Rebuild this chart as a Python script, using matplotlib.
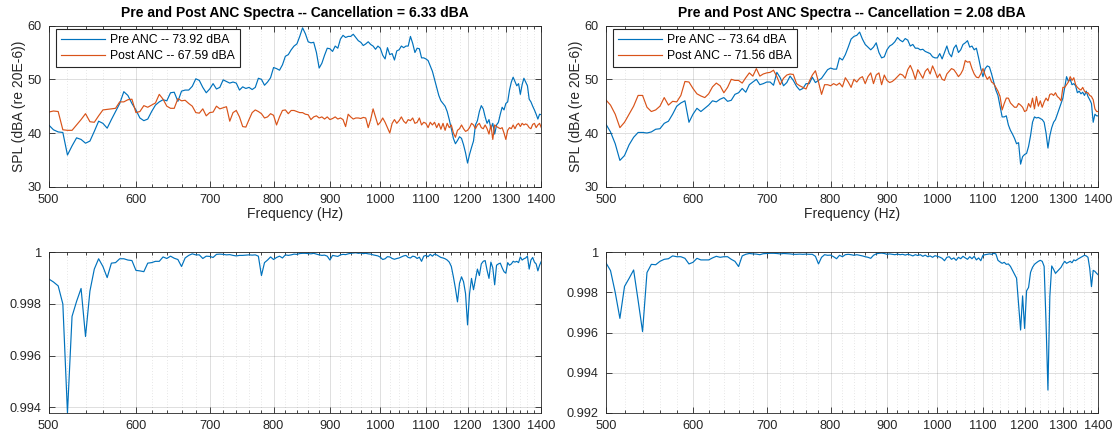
import numpy as np
import matplotlib
matplotlib.use('Agg')
import matplotlib.pyplot as plt
from matplotlib.ticker import FixedLocator, FixedFormatter, NullFormatter

plt.rcParams['font.family'] = ['Liberation Sans', 'DejaVu Sans']

# frequency grid (Hz)
freq = np.arange(500, 1405, 5)

# left case: spectra (dBA)
pre_left = [
    41.5, 40.6, 40.2, 40.1, 35.9, 37.6, 39.1, 38.8, 38.1, 38.5, 40.3, 42.2, 41.8, 40.9, 42.5, 44.0, 45.5, 47.7, 47.0, 45.5,
    44.3, 42.8, 42.3, 42.6, 44.0, 45.2, 45.8, 46.2, 46.0, 47.5, 47.6, 45.9, 47.8, 48.0, 48.0, 48.7, 50.1, 49.8, 48.5, 47.5,
    48.2, 49.2, 48.2, 48.5, 49.9, 49.6, 49.3, 49.5, 49.3, 48.0, 48.6, 48.3, 48.5, 48.1, 48.5, 50.2, 50.0, 48.9, 49.5, 50.3,
    52.2, 52.0, 51.7, 52.7, 54.3, 54.6, 55.5, 56.2, 56.6, 58.0, 59.6, 58.5, 57.0, 56.8, 56.9, 55.0, 52.1, 53.0, 54.5, 55.8,
    55.7, 55.2, 56.2, 55.8, 57.5, 58.2, 57.8, 58.0, 58.0, 58.4, 57.8, 57.2, 56.9, 56.3, 56.6, 57.0, 56.5, 56.2, 55.6, 56.2,
    55.8, 54.5, 53.8, 55.9, 54.6, 54.8, 53.6, 55.3, 55.5, 56.2, 55.9, 56.2, 56.2, 58.0, 56.7, 55.0, 55.8, 55.7, 54.0, 54.0,
    53.8, 53.5, 52.5, 51.5, 50.0, 48.5, 47.0, 46.0, 45.5, 45.0, 44.0, 42.5, 40.8, 39.0, 38.0, 38.6, 39.3, 39.0, 37.8, 36.3,
    34.4, 36.0, 37.3, 38.5, 41.5, 42.3, 44.0, 45.1, 44.5, 43.0, 41.8, 42.5, 40.8, 41.8, 39.8, 41.5, 42.0, 43.5, 44.8, 44.3,
    45.5, 45.8, 48.0, 49.5, 50.4, 49.6, 48.8, 49.2, 47.2, 49.0, 50.2, 49.5, 48.8, 46.3, 45.8, 45.0, 44.3, 43.5, 42.6, 43.5,
    43.4,
]
post_left = [
    43.9, 44.1, 44.0, 40.6, 40.5, 40.5, 41.5, 42.5, 43.6, 42.1, 42.0, 43.2, 44.3, 44.4, 44.5, 44.6, 45.8, 45.8, 46.2, 46.3,
    43.8, 44.0, 45.1, 44.8, 45.2, 45.6, 47.2, 46.3, 45.0, 44.6, 44.6, 46.4, 46.0, 46.1, 45.5, 45.0, 43.8, 43.7, 44.5, 43.2,
    43.8, 43.9, 45.0, 44.5, 44.7, 44.9, 42.2, 43.8, 44.2, 43.0, 41.2, 41.1, 42.5, 43.8, 44.3, 44.0, 43.6, 42.8, 43.0, 43.6,
    43.3, 41.5, 43.0, 44.2, 44.3, 43.6, 44.2, 44.2, 44.0, 43.8, 43.8, 43.5, 43.4, 42.5, 43.0, 43.2, 42.8, 43.0, 42.6, 43.0,
    42.5, 42.7, 43.0, 42.6, 42.8, 42.5, 41.2, 43.5, 43.0, 42.6, 42.8, 42.8, 42.7, 42.9, 42.8, 41.0, 42.5, 44.5, 43.0, 41.5,
    42.0, 42.8, 42.0, 41.0, 40.0, 41.8, 42.5, 41.8, 42.3, 43.0, 42.2, 41.8, 42.5, 42.3, 42.8, 41.8, 42.0, 42.8, 41.5, 42.0,
    41.8, 41.0, 42.0, 41.5, 42.0, 41.0, 41.8, 40.7, 41.8, 40.5, 41.8, 41.0, 41.5, 40.0, 39.2, 40.5, 40.8, 41.5, 40.8, 40.3,
    40.5, 41.0, 41.8, 41.5, 40.8, 41.5, 41.8, 41.0, 40.8, 41.5, 40.8, 39.8, 41.5, 38.8, 41.5, 41.2, 41.0, 40.8, 41.0, 40.0,
    38.8, 40.5, 41.0, 40.8, 41.5, 40.8, 41.5, 41.8, 41.2, 41.8, 41.5, 41.7, 41.5, 41.0, 40.8, 41.6, 41.8, 41.0, 41.5, 41.8,
    41.0,
]

# right case: spectra (dBA)
pre_right = [
    41.7, 40.2, 38.0, 34.9, 35.8, 37.8, 39.2, 40.1, 40.1, 40.0, 40.2, 40.7, 40.8, 41.8, 42.2, 43.5, 45.0, 45.6, 46.0, 42.0,
    43.5, 44.6, 44.0, 44.6, 45.2, 46.0, 45.8, 46.3, 46.6, 45.9, 46.1, 47.2, 47.5, 48.3, 47.6, 49.0, 49.5, 50.0, 49.0, 49.2,
    49.5, 49.5, 48.9, 51.3, 50.3, 48.8, 49.4, 50.6, 49.8, 48.7, 48.0, 48.3, 49.2, 49.2, 50.4, 49.4, 49.8, 50.2, 51.0, 51.8,
    52.1, 51.9, 51.9, 54.0, 53.6, 54.6, 56.0, 57.5, 58.0, 58.2, 58.8, 57.5, 56.5, 56.0, 55.5, 56.0, 56.8, 55.0, 54.0, 54.2,
    55.5, 56.2, 56.5, 57.0, 57.8, 57.3, 57.0, 57.6, 57.3, 56.2, 56.5, 55.8, 55.8, 55.5, 55.6, 55.2, 55.0, 54.8, 54.2, 54.0,
    54.0, 54.8, 53.8, 55.0, 56.2, 54.8, 54.2, 55.8, 56.4, 55.0, 55.5, 56.5, 56.8, 57.2, 56.0, 56.2, 55.5, 55.8, 54.0, 52.0,
    50.5, 52.0, 52.5, 52.3, 51.0, 49.5, 48.0, 47.0, 45.0, 43.0, 43.0, 43.2, 41.5, 40.5, 39.8, 39.0, 38.0, 38.2, 34.2, 35.6,
    36.0, 36.2, 37.5, 39.5, 42.0, 43.0, 42.8, 42.9, 42.7, 42.5, 42.0, 40.0, 37.2, 39.5, 41.0, 42.0, 42.5, 43.5, 44.5, 45.5,
    46.5, 48.5, 50.5, 49.6, 50.0, 49.0, 49.2, 48.8, 47.5, 47.8, 47.3, 47.6, 47.0, 47.8, 46.8, 46.2, 45.5, 42.0, 43.5, 43.2,
    43.2,
]
post_right = [
    46.2, 45.2, 43.5, 41.0, 42.0, 43.5, 45.0, 47.0, 47.0, 44.8, 44.0, 44.3, 45.0, 46.6, 45.2, 45.9, 45.8, 47.0, 49.6, 49.5,
    48.3, 47.3, 46.9, 46.6, 47.3, 48.6, 49.3, 48.8, 47.5, 48.5, 50.0, 49.8, 49.8, 49.3, 50.3, 51.2, 50.6, 52.0, 50.6, 51.0,
    51.2, 51.3, 51.7, 50.5, 49.0, 50.2, 50.8, 51.0, 50.9, 49.2, 48.8, 48.5, 48.2, 49.6, 50.8, 51.6, 49.5, 47.2, 49.0, 49.0,
    48.8, 49.2, 48.9, 49.3, 48.6, 50.3, 49.5, 48.5, 50.0, 49.5, 50.2, 50.5, 49.2, 50.5, 51.2, 49.2, 50.8, 51.2, 49.0, 50.8,
    49.8, 49.4, 49.6, 50.0, 50.5, 51.0, 50.8, 50.2, 51.8, 52.6, 51.5, 50.0, 51.8, 51.0, 50.2, 51.5, 52.0, 51.0, 52.5, 51.5,
    50.3, 51.0, 50.0, 49.8, 51.0, 51.5, 52.0, 51.8, 51.2, 50.5, 51.0, 51.8, 53.5, 53.2, 53.3, 52.0, 51.0, 50.4, 50.3, 51.0,
    52.0, 50.8, 50.0, 50.5, 49.5, 49.2, 48.5, 47.8, 46.8, 44.3, 45.5, 46.5, 46.5, 45.6, 45.2, 44.8, 44.8, 45.5, 45.2, 44.8,
    44.0, 44.2, 45.5, 44.8, 46.5, 44.5, 46.8, 45.0, 46.0, 44.8, 45.8, 46.5, 46.0, 47.2, 47.3, 47.0, 47.5, 46.8, 46.5, 46.0,
    48.5, 48.5, 49.0, 49.5, 50.5, 49.8, 50.3, 49.0, 48.5, 48.2, 48.0, 48.5, 47.8, 47.5, 47.5, 47.0, 46.8, 46.2, 44.5, 44.0,
    44.0,
]

# lower panels
coh_left = [
    0.99897, 0.99885, 0.99870, 0.99800, 0.99378, 0.99752, 0.99810, 0.99860, 0.99674, 0.99850,
    0.99935, 0.99975, 0.99945, 0.99902, 0.99958, 0.99960, 0.99975, 0.99975, 0.99970, 0.99968,
    0.99930, 0.99928, 0.99925, 0.99958, 0.99960, 0.99965, 0.99965, 0.99982, 0.99976, 0.99985,
    0.99977, 0.99972, 0.99945, 0.99978, 0.99988, 0.99994, 0.99990, 0.99990, 0.99976, 0.99985,
    0.99984, 0.99980, 0.99992, 0.99993, 0.99992, 0.99990, 0.99991, 0.99988, 0.99986, 0.99988,
    0.99988, 0.99989, 0.99990, 0.99989, 0.99990, 0.99985, 0.99910, 0.99960, 0.99970, 0.99982,
    0.99972, 0.99980, 0.99985, 0.99978, 0.99990, 0.99988, 0.99990, 0.99993, 0.99992, 0.99995,
    0.99996, 0.99996, 0.99995, 0.99994, 0.99996, 0.99993, 0.99990, 0.99988, 0.99989, 0.99985,
    0.99970, 0.99988, 0.99986, 0.99984, 0.99990, 0.99992, 0.99991, 0.99994, 0.99996, 0.99997,
    0.99998, 0.99996, 0.99997, 0.99995, 0.99996, 0.99994, 0.99993, 0.99990, 0.99988, 0.99986,
    0.99981, 0.99972, 0.99975, 0.99983, 0.99982, 0.99976, 0.99973, 0.99976, 0.99978, 0.99982,
    0.99986, 0.99988, 0.99980, 0.99978, 0.99985, 0.99983, 0.99976, 0.99981, 0.99965, 0.99985,
    0.99988, 0.99983, 0.99992, 0.99985, 0.99993, 0.99990, 0.99985, 0.99980, 0.99978, 0.99975,
    0.99970, 0.99962, 0.99945, 0.99905, 0.99860, 0.99808, 0.99880, 0.99905, 0.99886, 0.99840,
    0.99719, 0.99840, 0.99899, 0.99855, 0.99895, 0.99935, 0.99910, 0.99955, 0.99965, 0.99968,
    0.99930, 0.99899, 0.99962, 0.99940, 0.99874, 0.99950, 0.99955, 0.99958, 0.99940, 0.99925,
    0.99919, 0.99960, 0.99950, 0.99955, 0.99965, 0.99962, 0.99965, 0.99960, 0.99982, 0.99970,
    0.99975, 0.99978, 0.99985, 0.99935, 0.99970, 0.99980, 0.99962, 0.99955, 0.99928, 0.99950,
    0.99965,
]
coh_right = [
    0.99949, 0.99909, 0.99800, 0.99671, 0.99830, 0.99870, 0.99912, 0.99760, 0.99605, 0.99899,
    0.99940, 0.99938, 0.99955, 0.99965, 0.99968, 0.99982, 0.99978, 0.99978, 0.99970, 0.99942,
    0.99950, 0.99970, 0.99962, 0.99962, 0.99962, 0.99972, 0.99980, 0.99975, 0.99978, 0.99978,
    0.99965, 0.99955, 0.99929, 0.99982, 0.99990, 0.99994, 0.99992, 0.99991, 0.99988, 0.99993,
    0.99994, 0.99995, 0.99995, 0.99994, 0.99992, 0.99994, 0.99993, 0.99992, 0.99990, 0.99990,
    0.99991, 0.99990, 0.99991, 0.99990, 0.99990, 0.99980, 0.99942, 0.99975, 0.99988, 0.99985,
    0.99986, 0.99978, 0.99968, 0.99985, 0.99978, 0.99988, 0.99990, 0.99988, 0.99985, 0.99988,
    0.99985, 0.99982, 0.99978, 0.99975, 0.99970, 0.99985, 0.99992, 0.99995, 0.99996, 0.99994,
    0.99990, 0.99992, 0.99990, 0.99988, 0.99991, 0.99988, 0.99990, 0.99986, 0.99990, 0.99987,
    0.99982, 0.99988, 0.99984, 0.99988, 0.99980, 0.99986, 0.99978, 0.99982, 0.99975, 0.99983,
    0.99980, 0.99976, 0.99970, 0.99958, 0.99975, 0.99978, 0.99965, 0.99972, 0.99960, 0.99975,
    0.99968, 0.99980, 0.99972, 0.99965, 0.99978, 0.99968, 0.99980, 0.99962, 0.99972, 0.99958,
    0.99985, 0.99988, 0.99990, 0.99992, 0.99990, 0.99995, 0.99992, 0.99960, 0.99952, 0.99945,
    0.99950, 0.99940, 0.99942, 0.99930, 0.99910, 0.99890, 0.99871, 0.99740, 0.99613, 0.99783,
    0.99621, 0.99808, 0.99825, 0.99900, 0.99925, 0.99940, 0.99948, 0.99955, 0.99960, 0.99955,
    0.99930, 0.99650, 0.99314, 0.99780, 0.99932, 0.99915, 0.99895, 0.99905, 0.99915, 0.99925,
    0.99942, 0.99955, 0.99945, 0.99950, 0.99955, 0.99948, 0.99962, 0.99958, 0.99965, 0.99970,
    0.99975, 0.99980, 0.99985, 0.99982, 0.99975, 0.99920, 0.99829, 0.99910, 0.99905, 0.99895,
    0.99887,
]

titles = ['Pre and Post ANC Spectra -- Cancellation = 6.33 dBA',
          'Pre and Post ANC Spectra -- Cancellation = 2.08 dBA']
pre_labels = ['Pre ANC -- 73.92 dBA', 'Pre ANC -- 73.64 dBA']
post_labels = ['Post ANC -- 67.59 dBA', 'Post ANC -- 71.56 dBA']

xticks = list(range(500, 1401, 100))
xminor = [f for f in range(520, 1400, 20) if f % 100 != 0]

BLUE = '#0072BD'
ORANGE = '#D95319'
DARK = '#262626'

fig = plt.figure(figsize=(11.17, 4.38), dpi=100)

W = 0.441
lefts = [0.0436, 0.5423]
ax_top = [fig.add_axes([l, 0.5738, W, 0.3676]) for l in lefts]
ax_bot = [fig.add_axes([l, 0.0571, W, 0.3669]) for l in lefts]


def style(ax):
    ax.set_xscale('log')
    ax.set_xlim(500, 1400)
    ax.xaxis.set_major_locator(FixedLocator(xticks))
    ax.xaxis.set_major_formatter(FixedFormatter([str(t) for t in xticks]))
    ax.xaxis.set_minor_locator(FixedLocator(xminor))
    ax.xaxis.set_minor_formatter(NullFormatter())
    ax.set_axisbelow(True)
    ax.grid(which='major', color=DARK, alpha=0.15, linewidth=0.7)
    ax.grid(which='minor', axis='x', color=DARK, alpha=0.22, linewidth=0.5, linestyle=(0, (1, 3)))
    ax.tick_params(which='both', direction='in', top=True, right=True, colors=DARK, width=0.6)
    ax.tick_params(which='major', length=4, labelsize=9.2, pad=5)
    ax.tick_params(which='minor', length=2.5)
    for s in ax.spines.values():
        s.set_color(DARK)
        s.set_linewidth(0.6)


for i, ax in enumerate(ax_top):
    pre = [pre_left, pre_right][i]
    post = [post_left, post_right][i]
    ax.plot(freq, pre, color=BLUE, linewidth=0.85, label=pre_labels[i])
    ax.plot(freq, post, color=ORANGE, linewidth=0.85, label=post_labels[i])
    style(ax)
    ax.set_ylim(30, 60)
    ax.set_yticks([30, 40, 50, 60])
    ax.set_title(titles[i], fontsize=10, fontweight='bold', color='black', pad=6)
    leg = ax.legend(loc='upper left', bbox_to_anchor=(0.0148, 0.9776), borderaxespad=0,
                    fancybox=False, edgecolor=DARK, framealpha=1, fontsize=8.8,
                    handlelength=3.6, handletextpad=0.45, borderpad=0.4, labelspacing=0.3)
    leg.get_frame().set_linewidth(0.8)
    cx = (ax.get_position().x0 + ax.get_position().x1) / 2
    fig.text(cx, 1 - 214 / 438, 'Frequency (Hz)', ha='center', va='center', fontsize=10, color=DARK)
    fig.text(ax.get_position().x0 - 30.2 / 1117, (ax.get_position().y0 + ax.get_position().y1) / 2,
             'SPL (dBA (re 20E-6))', rotation=90, ha='center', va='center', fontsize=10, color=DARK)

for i, ax in enumerate(ax_bot):
    coh = [coh_left, coh_right][i]
    ax.plot(freq, coh, color=BLUE, linewidth=0.85)
    style(ax)
    if i == 0:
        ax.set_ylim(min(coh), 1.0)
        yt = [0.994, 0.996, 0.998, 1.0]
    else:
        ax.set_ylim(0.992, 1.0)
        yt = [0.992, 0.994, 0.996, 0.998, 1.0]
    ax.yaxis.set_major_locator(FixedLocator(yt))
    ax.yaxis.set_major_formatter(FixedFormatter(['1' if v == 1.0 else f'{v:.3f}' for v in yt]))

fig.savefig('out.png', dpi=100)
